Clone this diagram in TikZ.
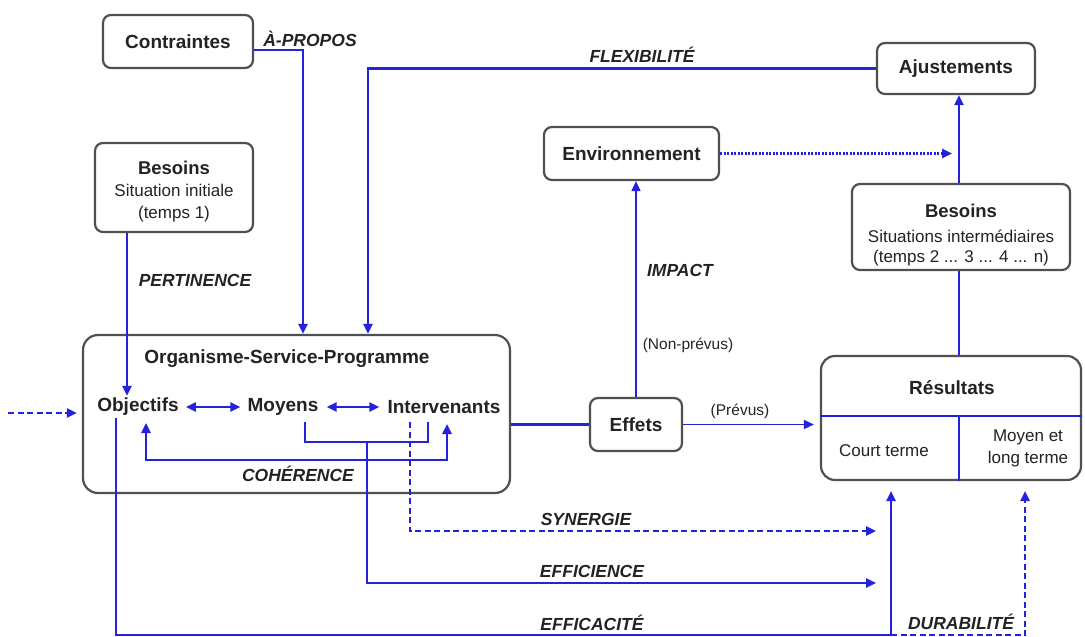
\documentclass[tikz,border=0pt]{standalone}
\usepackage{fontspec}
\setmainfont{Liberation Sans}
\usetikzlibrary{arrows.meta}

\definecolor{flow}{RGB}{35,35,220}
\definecolor{ink}{RGB}{35,35,35}
\definecolor{frame}{RGB}{80,80,80}

\tikzset{
  box/.style={draw=frame, line width=2.2pt, rounded corners=8pt, fill=white,
              text=ink, align=center, inner sep=0pt},
  bigbox/.style={box, rounded corners=15pt},
  ttl/.style={text=ink, font=\fontsize{19}{22}\selectfont\bfseries, inner sep=2pt},
  txt/.style={text=ink, font=\fontsize{17}{22}\selectfont, align=center, inner sep=1pt},
  small/.style={text=ink, font=\fontsize{15.5}{18}\selectfont, inner sep=1pt},
  crit/.style={text=ink, font=\fontsize{17.5}{20}\selectfont\bfseries\itshape, inner sep=1pt},
  link/.style={draw=flow, line width=2.4pt},
  tip/.style={-{Triangle[length=10pt,width=9pt]}},
  twotips/.style={{Triangle[length=10pt,width=9pt]}-{Triangle[length=10pt,width=9pt]}},
  dashlink/.style={link, dash pattern=on 6pt off 3.5pt},
  dotlink/.style={link, dash pattern=on 2pt off 1.5pt},
}

\begin{document}
\begin{tikzpicture}[x=1pt, y=-1pt]
\useasboundingbox (0,0) rectangle (1085,637);

% ---- boxes
\node[box, minimum width=150pt, minimum height=53pt, font=\fontsize{19}{22}\selectfont\bfseries]
  (contr) at (178,41.5) {Contraintes};
\node[box, minimum width=158pt, minimum height=89pt, font=\fontsize{17}{22}\selectfont]
  (besL) at (174,187.5) {\rule{0pt}{22pt}{\fontsize{18.5}{22}\selectfont\bfseries Besoins}\\
  Situation initiale\\(temps 1)};
\node[bigbox, minimum width=427pt, minimum height=158pt] (osp) at (296.5,414) {};
\node[box, minimum width=158pt, minimum height=51pt, font=\fontsize{19}{22}\selectfont\bfseries]
  (ajust) at (956,68.5) {Ajustements};
\node[box, minimum width=175pt, minimum height=53pt, font=\fontsize{19}{22}\selectfont\bfseries]
  (env) at (631.5,153.5) {Environnement};
\node[box, minimum width=218pt, minimum height=86pt, font=\fontsize{17}{20}\selectfont]
  (besR) at (961,227) {\rule{0pt}{30pt}{\fontsize{18.5}{22}\selectfont\bfseries Besoins}\\[5pt]
  Situations intermédiaires\\(temps 2 ... 3 ... 4 ... n)};
\node[box, minimum width=92pt, minimum height=53pt, font=\fontsize{19}{22}\selectfont\bfseries]
  (effets) at (636,424.5) {Effets};
\node[box, rounded corners=14pt, minimum width=260pt, minimum height=124pt]
  (result) at (951,418) {};

% ---- inside the organisation box
\node[ttl] (osptitle) at (287,359) {Organisme-Service-Programme};
\node[ttl] (obj)    at (138,407) {Objectifs};
\node[ttl] (moy)    at (283,407) {Moyens};
\node[ttl] (interv) at (444,407) {Intervenants};

% ---- inside the results box
\coordinate (colX) at (959,0);
\coordinate (rowY) at (0,416);
\draw[link] (result.west |- rowY) -- (result.east |- rowY);
\draw[link] (colX |- rowY) -- (colX |- result.south);
\node[ttl] (restitle) at (952,388) {Résultats};
\node[txt] (court) at (884,451) {Court terme};
\node[txt] (moyen) at (1028,448) {Moyen et\\long terme};

% ---- upper feedback arrows
\coordinate (aproposX) at (303,0);
\coordinate (flexX) at (368,0);
\draw[link, tip] ([yshift=-8.5pt]contr.east) -| (aproposX |- osp.north);
\draw[link, tip] (ajust.west) -| (flexX |- osp.north);

% ---- pertinence
\coordinate (pertX) at (127,0);
\draw[link, tip] (besL.south -| pertX) -- (obj.north -| pertX);

% ---- incoming dashed arrow
\coordinate (inL) at (8,413);
\draw[dashlink, tip, shorten >=5pt] (inL) -- (osp.west |- inL);

% ---- links between the components
\draw[link, twotips] ([xshift=5pt]obj.east) -- ([xshift=-5pt]moy.west);
\draw[link, twotips] ([xshift=6pt]moy.east) -- ([xshift=-6pt]interv.west);

% ---- coherence
\coordinate (cohL) at (146,460);
\coordinate (cohR) at (447,460);
\coordinate (cohLtip) at (146,423);
\coordinate (cohRtip) at (447,424);
\draw[link, twotips] (cohLtip) -- (cohL) -- (cohR) -- (cohRtip);

% ---- means / staff bracket and efficience
\coordinate (brL) at (305,422);
\coordinate (brR) at (428,422);
\coordinate (brY) at (0,442);
\draw[link] (brL) -- (brL |- brY) -- (brR |- brY) -- (brR);
\coordinate (effiX) at (367,0);
\coordinate (effiY) at (0,583);
\coordinate (arrX) at (876,0);
\draw[link, tip] (effiX |- brY) -- (effiX |- effiY) -- (arrX |- effiY);

% ---- synergie
\coordinate (synX) at (410,0);
\coordinate (synY) at (0,531);
\draw[dashlink, tip] (synX |- brL) -- (synX |- synY) -- (arrX |- synY);

% ---- efficacite and durabilite
\coordinate (efcX) at (116,0);
\coordinate (botY) at (0,635);
\coordinate (courtX) at (891,0);
\coordinate (longX) at (1025,0);
\coordinate (tipY) at (0,491);
\draw[link, tip] (efcX |- obj.south) -- (efcX |- botY) -- (courtX |- botY) -- (courtX |- tipY);
\draw[dashlink, tip] (courtX |- botY) -- (longX |- botY) -- (longX |- tipY);

% ---- effects
\draw[link] (effets.west -| osp.east) -- (effets.west);
\draw[link, line width=1.6pt, tip] (effets.north) -- (effets.north |- env.south);
\draw[link, line width=1.6pt, tip, shorten >=6pt] (effets.east) -- (effets.east -| result.west);

% ---- right column
\draw[link] (besR.south -| colX) -- (result.north -| colX);
\draw[link, tip] (besR.north -| colX) -- (ajust.south -| colX);
\draw[dotlink, tip, shorten >=7pt] (env.east) -- (env.east -| colX);

% ---- labels
\node[crit] (lapropos) at (310,39) {À-PROPOS};
\node[crit] (lflex) at (642,55) {FLEXIBILITÉ};
\node[crit] (lpert) at (195,280) {PERTINENCE};
\node[crit] (limpact) at (680,270) {IMPACT};
\node[small] (lnonprev) at (688,345) {(Non-prévus)};
\node[small] (lprev) at (740,411) {(Prévus)};
\node[crit] (lcoh) at (298,474) {COHÉRENCE};
\node[crit] (lsyn) at (586,519) {SYNERGIE};
\node[crit] (leffi) at (592,571) {EFFICIENCE};
\node[crit] (lefca) at (592,623) {EFFICACITÉ};
\node[crit] (ldura) at (961,622) {DURABILITÉ};
\end{tikzpicture}
\end{document}
